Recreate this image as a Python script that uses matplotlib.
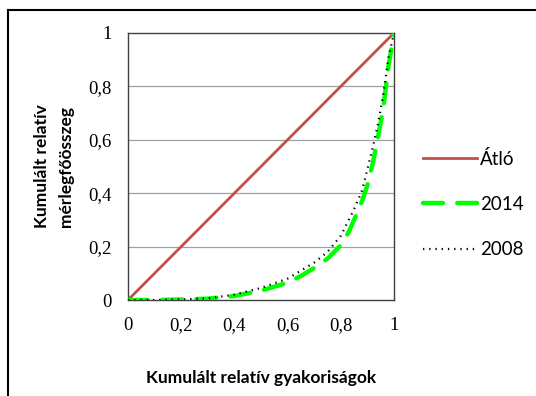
import numpy as np
import matplotlib.pyplot as plt
from matplotlib.lines import Line2D

# adatok (leolvasva)
x_vals = [0, 0.1, 0.2, 0.3, 0.4, 0.5, 0.6, 0.65, 0.7, 0.75, 0.8, 0.83, 0.85, 0.88,
          0.9, 0.92, 0.94, 0.96, 0.98, 1.0]
y_2008 = [0, 0.0, 0.002, 0.006, 0.02, 0.045, 0.08, 0.11, 0.14, 0.18, 0.24, 0.30,
          0.34, 0.41, 0.49, 0.57, 0.66, 0.77, 0.91, 1.0]
y_2014 = [0, 0.0, 0.002, 0.005, 0.015, 0.035, 0.065, 0.09, 0.12, 0.155, 0.205, 0.255,
          0.30, 0.37, 0.43, 0.51, 0.61, 0.72, 0.88, 1.0]
diag = [0, 1]
ticks = [0, 0.2, 0.4, 0.6, 0.8, 1]
tick_labels = ['0', '0,2', '0,4', '0,6', '0,8', '1']

fig = plt.figure(figsize=(5.36, 3.96), dpi=100)
ax = fig.add_axes([0.2388, 0.2424, 0.4962, 0.6743])

for t in ticks[1:-1]:
    ax.axhline(t, color='#a0a0a0', lw=0.9, zorder=0)

ax.plot(diag, diag, color='#C0504D', lw=2.0, label='Átló', zorder=2)
ax.plot(x_vals, y_2014, color='#00FF00', lw=3.2, dashes=(4.5, 3.2),
        dash_capstyle='round', label='2014', zorder=3)
ax.plot(x_vals, y_2008, color='black', lw=1.6, dashes=(0.6, 2.2), label='2008', zorder=4)

ax.set_xlim(0, 1)
ax.set_ylim(0, 1)
ax.set_xticks(ticks)
ax.set_xticklabels(tick_labels)
ax.set_yticks(ticks)
ax.set_yticklabels(tick_labels)
ax.tick_params(length=0, pad=12, labelsize=13.5)
for lab in ax.get_xticklabels() + ax.get_yticklabels():
    lab.set_family('Liberation Serif')
for s in ax.spines.values():
    s.set_color('#404040')
    s.set_linewidth(1.0)

ax.set_xlabel('Kumulált relatív gyakoriságok', family='Lato', fontweight='bold',
              fontsize=12.5, labelpad=26)
ax.set_ylabel('Kumulált relatív\nmérlegfőösszeg', family='Lato', fontweight='bold',
              fontsize=12.5, labelpad=10, linespacing=1.6)

leg = fig.legend(loc='center left', bbox_to_anchor=(0.757, 0.485), frameon=False,
                 handlelength=2.9, handletextpad=0.15, labelspacing=1.5,
                 prop={'family': 'Lato', 'size': 13.5})

# keret
fig.add_artist(Line2D([8 / 536, 1], [1 - 10 / 396, 1 - 10 / 396], color='black', lw=1.5))
fig.add_artist(Line2D([8 / 536, 8 / 536], [0, 1 - 10 / 396], color='black', lw=1.5))

fig.savefig('out.png', dpi=100)
